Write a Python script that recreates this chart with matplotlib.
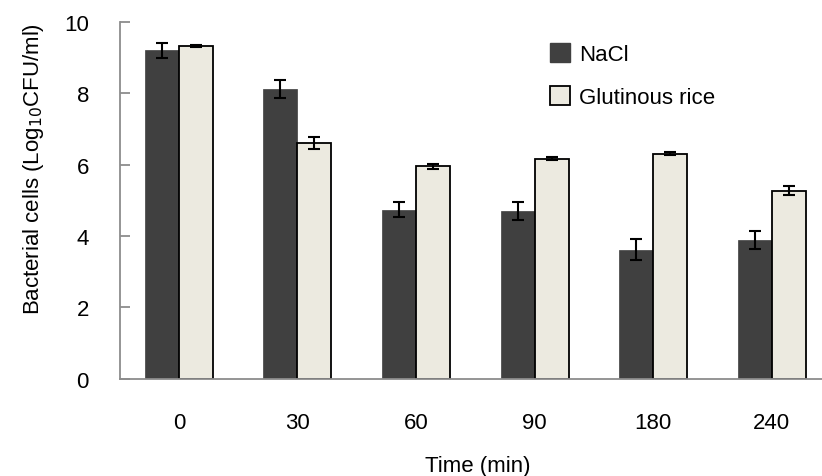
import numpy as np
import matplotlib.pyplot as plt
from matplotlib.patches import Patch

plt.rcParams['font.family'] = ['Liberation Sans', 'DejaVu Sans']

times = ['0', '30', '60', '90', '180', '240']
nacl = [9.21, 8.12, 4.74, 4.69, 3.62, 3.89]
nacl_err = [0.21, 0.24, 0.22, 0.25, 0.30, 0.25]
rice = [9.32, 6.61, 5.96, 6.17, 6.31, 5.27]
rice_err = [0.02, 0.17, 0.07, 0.03, 0.05, 0.13]

fig = plt.figure(figsize=(8.22, 4.77), dpi=100)
ax = fig.add_axes([0.1454, 0.204, 0.8657, 0.748])

x = np.arange(len(times))
w = 0.287
fs = 16
grey = '#8c8c8c'

ax.bar(x - w / 2, nacl, w, color='#404040', edgecolor='#404040', linewidth=0.5,
       yerr=nacl_err, error_kw=dict(ecolor='black', elinewidth=1.5, capsize=4.5, capthick=1.5))
ax.bar(x + w / 2, rice, w, color='#ECEAE0', edgecolor='black', linewidth=1.3,
       yerr=rice_err, error_kw=dict(ecolor='black', elinewidth=1.5, capsize=4.5, capthick=1.5))

ax.set_xlim(-0.5, 5.5)
ax.set_ylim(0, 10)
ax.set_xticks(x)
ax.set_xticklabels(times)
ax.set_yticks([0, 2, 4, 6, 8, 10])

for s in ['top', 'right']:
    ax.spines[s].set_visible(False)
for s in ['left', 'bottom']:
    ax.spines[s].set_color(grey)
    ax.spines[s].set_linewidth(1.3)

ax.tick_params(axis='y', direction='in', length=7, width=1.3, color=grey, pad=22, labelsize=fs)
ax.tick_params(axis='x', length=0, pad=24, labelsize=fs)

fig.text(0.041, 0.646, 'Bacterial cells (Log$_{10}$CFU/ml)', rotation=90,
         ha='center', va='center', fontsize=fs)
fig.text(0.581, 0.022, 'Time (min)', ha='center', va='center', fontsize=fs)

handles = [Patch(facecolor='#404040', edgecolor='#404040', label='NaCl'),
           Patch(facecolor='#ECEAE0', edgecolor='black', linewidth=1.3, label='Glutinous rice')]
ax.legend(handles=handles, loc='upper left', bbox_to_anchor=(0.593, 0.965), frameon=False,
          fontsize=fs, handlelength=0.9, handleheight=0.9, handletextpad=0.4,
          labelspacing=0.95, borderaxespad=0)

fig.savefig('out.png', dpi=100)
